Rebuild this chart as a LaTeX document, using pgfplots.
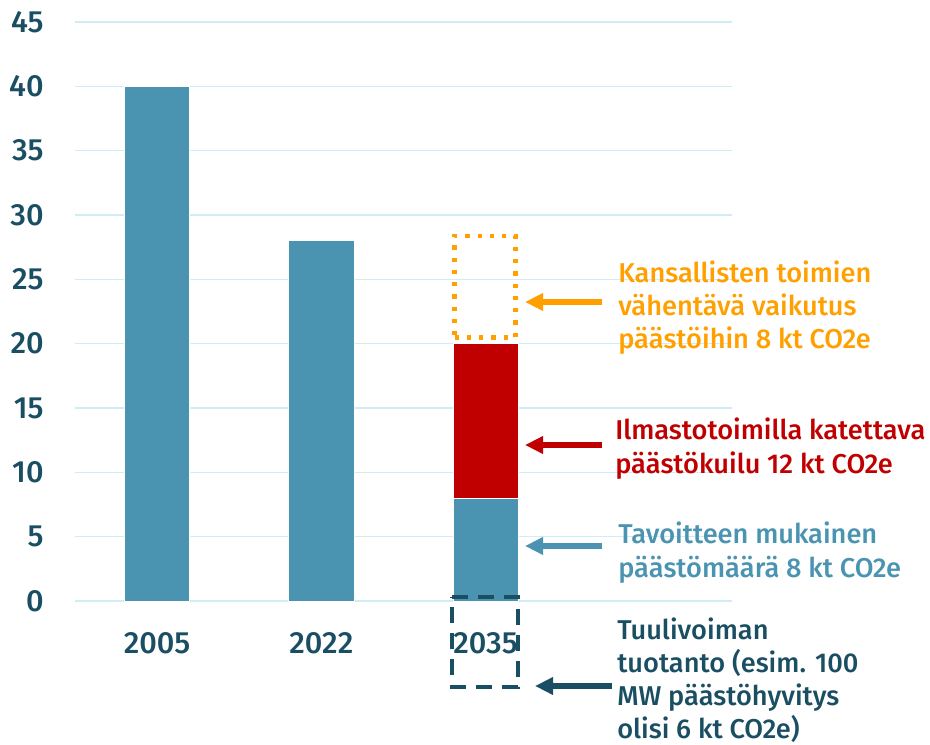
\documentclass[border=0pt]{standalone}
\usepackage{pgfplots}
\pgfplotsset{compat=1.18}
\usepackage{fontspec}
\setmainfont{Fira Sans Medium}
\usetikzlibrary{arrows.meta}
\definecolor{barblue}{HTML}{4A94B1}
\definecolor{barred}{HTML}{C00000}
\definecolor{orng}{HTML}{FFA000}
\definecolor{dark}{HTML}{1A4E62}
\definecolor{gridc}{HTML}{D0ECF5}
\begin{document}
\begin{tikzpicture}
\useasboundingbox (-56.25pt,-107.25pt) rectangle (641.25pt,450.75pt);
\begin{axis}[
  at={(0,0)}, anchor=south west,
  scale only axis, width=492.75pt, height=434.25pt,
  xmin=-0.5, xmax=3.5, ymin=0, ymax=45,
  axis line style={draw=none},
  clip=false,
  xtick={0,1,2}, xticklabels={2005,2022,2035},
  ytick={0,5,...,45},
  ymajorgrids, grid style={gridc, line width=1pt},
  major tick length=0pt,
  /pgf/number format/assume math mode=true,
  tick label style={font=\fontsize{23}{28}\selectfont, text=dark},
  yticklabel style={xshift=-20pt},
  xticklabel style={yshift=-20pt},
]
\addplot[ybar, bar width=0.396, bar shift=0pt, fill=barred, draw=white, line width=0.6pt] coordinates {(2,20)};
\addplot[ybar, bar width=0.396, bar shift=0pt, fill=barblue, draw=white, line width=0.6pt] coordinates {(0,40) (1,28) (2,8)};
\addplot[sharp plot, orng, line width=3.2pt, dash pattern=on 3.2pt off 6pt] coordinates {(1.811,20.49) (2.182,20.49) (2.182,28.39) (1.811,28.39)} -- cycle;
\addplot[sharp plot, dark, line width=3pt, dash pattern=on 12pt off 7.5pt] coordinates {(1.794,0.29) (2.196,0.29) (2.196,-6.71) (1.794,-6.71)} -- cycle;
\end{axis}
% annotations (pixel -> pt: x=(px-75)*0.75, y=(601-py)*0.75)
\begin{scope}[every node/.style={anchor=base west, inner sep=0pt, font=\fontsize{20.4}{24}\selectfont}]
\node[text=orng] at ({(618-75)*0.75pt},{(601-282)*0.75pt}) {Kansallisten toimien};
\node[text=orng] at ({(618-75)*0.75pt},{(601-315)*0.75pt}) {vähentävä vaikutus};
\node[text=orng] at ({(618-75)*0.75pt},{(601-348)*0.75pt}) {päästöihin 8 kt CO2e};
\node[text=barred] at ({(615-75)*0.75pt},{(601-439)*0.75pt}) {Ilmastotoimilla katettava};
\node[text=barred] at ({(615-75)*0.75pt},{(601-473)*0.75pt}) {päästökuilu 12 kt CO2e};
\node[text=barblue] at ({(618-75)*0.75pt},{(601-543)*0.75pt}) {Tavoitteen mukainen};
\node[text=barblue] at ({(618-75)*0.75pt},{(601-577)*0.75pt}) {päästömäärä 8 kt CO2e};
\node[text=dark] at ({(617-75)*0.75pt},{(601-639)*0.75pt}) {Tuulivoiman};
\node[text=dark] at ({(617-75)*0.75pt},{(601-672)*0.75pt}) {tuotanto (esim. 100};
\node[text=dark] at ({(617-75)*0.75pt},{(601-705)*0.75pt}) {MW päästöhyvitys};
\node[text=dark] at ({(617-75)*0.75pt},{(601-738)*0.75pt}) {olisi 6 kt CO2e)};
\end{scope}
\begin{scope}[line width=3.8pt, -{Triangle[length=13.5pt,width=12.5pt]}]
\draw[orng] ({(602-75)*0.75pt},{(601-302)*0.75pt}) -- ({(525-75)*0.75pt},{(601-302)*0.75pt});
\draw[barred] ({(602-75)*0.75pt},{(601-445)*0.75pt}) -- ({(525-75)*0.75pt},{(601-445)*0.75pt});
\draw[barblue] ({(602-75)*0.75pt},{(601-546)*0.75pt}) -- ({(525-75)*0.75pt},{(601-546)*0.75pt});
\draw[dark] ({(612-75)*0.75pt},{(601-686)*0.75pt}) -- ({(535-75)*0.75pt},{(601-686)*0.75pt});
\end{scope}
\end{tikzpicture}
\end{document}
